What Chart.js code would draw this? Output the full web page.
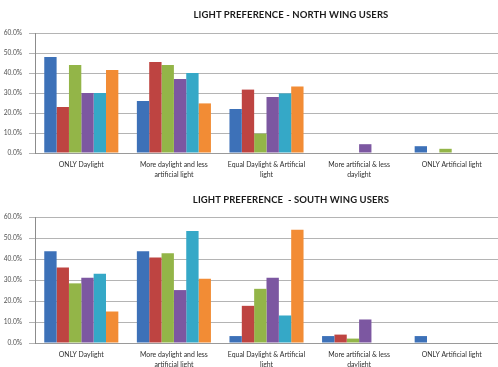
<!DOCTYPE html>
<html>
<head>
<meta charset="utf-8">
<script src="https://cdn.jsdelivr.net/npm/chart.js@4/dist/chart.umd.min.js"></script>
<style>
  html, body { margin: 0; padding: 0; background: #ffffff; }
  body { width: 498px; height: 367px; position: relative; overflow: hidden; }
  .panel { position: absolute; left: 0; width: 498px; }
  .panel canvas { display: block; }
  .title {
    position: absolute; left: 181px; width: 220px; text-align: center;
    font: bold 9.5px Lato, "DejaVu Sans", sans-serif; color: #1a1a1a;
    letter-spacing: 0.1px; white-space: nowrap;
  }
</style>
</head>
<body>
<div class="panel" style="top:0;height:186px"><canvas id="north" width="498" height="186"></canvas></div>
<div class="title" style="top:9px">LIGHT PREFERENCE - NORTH WING USERS</div>
<div class="panel" style="top:185px;height:182px"><canvas id="south" width="498" height="182"></canvas></div>
<div class="title" style="top:194px">LIGHT PREFERENCE&nbsp; - SOUTH WING USERS</div>

<script>
// Light preference categories (x axis)
const categories = [
  ['ONLY Daylight'],
  ['More daylight and less', 'artificial light'],
  ['Equal Daylight & Artificial', 'light'],
  ['More artificial & less', 'daylight'],
  ['ONLY Artificial light']
];

// Y axis ticks (percent)
const yTicks = [0, 10, 20, 30, 40, 50, 60];

// Respondent groups (one colour each)
const groupNames = ['Group 1', 'Group 2', 'Group 3', 'Group 4', 'Group 5', 'Group 6'];
const groupColors = ['#3D71B8', '#BE4441', '#93B548', '#7C57A1', '#35A8C7', '#F28C35'];

// North wing users, % per group
const north1 = [48.0, 26.0, 22.0, 0, 3.4];
const north2 = [23.0, 45.5, 31.7, 0, 0];
const north3 = [44.0, 44.0, 9.7, 0, 2.1];
const north4 = [30.0, 37.0, 28.0, 4.4, 0];
const north5 = [30.0, 40.0, 29.8, 0, 0];
const north6 = [41.5, 24.8, 33.3, 0, 0];

// South wing users, % per group
const south1 = [43.7, 43.7, 3.3, 3.3, 3.3];
const south2 = [36.0, 40.7, 17.7, 4.0, 0];
const south3 = [28.4, 42.7, 25.8, 2.1, 0];
const south4 = [31.1, 25.2, 31.1, 11.2, 0];
const south5 = [33.0, 53.3, 13.1, 0, 0];
const south6 = [15.0, 30.6, 53.9, 0, 0];

const northSeries = [north1, north2, north3, north4, north5, north6];
const southSeries = [south1, south2, south3, south4, south5, south6];

const FONT = 'Lato, "DejaVu Sans", sans-serif';

function buildChart(canvasId, series, opts) {
  const datasets = series.map((vals, i) => ({
    label: groupNames[i],
    data: vals,
    backgroundColor: groupColors[i],
    borderWidth: 0,
    categoryPercentage: 0.8,
    barPercentage: 1.0
  }));
  return new Chart(document.getElementById(canvasId), {
    type: 'bar',
    data: { labels: categories, datasets },
    options: {
      responsive: false,
      animation: false,
      devicePixelRatio: 1,
      layout: { padding: { top: opts.top, right: 0, left: 0, bottom: 0 } },
      plugins: {
        legend: { display: false },
        tooltip: { enabled: false },
        title: { display: false }
      },
      scales: {
        x: {
          grid: { display: false, drawTicks: false, tickLength: 0 },
          border: { display: true, color: '#9a9a9a', width: 1 },
          ticks: {
            color: '#2e2e2e',
            font: { family: FONT, size: 6.9, lineHeight: 1.4 },
            padding: 7,
            maxRotation: 0,
            autoSkip: false
          },
          afterFit(scale) { scale.height = opts.xHeight; }
        },
        y: {
          min: 0,
          max: yTicks[yTicks.length - 1],
          afterBuildTicks(scale) { scale.ticks = yTicks.map(v => ({ value: v })); },
          grid: { color: '#b4b4b4', lineWidth: 1, tickLength: 6, drawTicks: true },
          border: { display: true, color: '#8c8c8c', width: 1 },
          ticks: {
            color: '#505050',
            font: { family: FONT, size: 6.6 },
            padding: 7,
            callback: v => v.toFixed(1) + '%'
          },
          afterFit(scale) { scale.width = 35; }
        }
      }
    }
  });
}

buildChart('north', northSeries, { top: 33, xHeight: 33 });
buildChart('south', southSeries, { top: 32, xHeight: 24 });
</script>
</body>
</html>
